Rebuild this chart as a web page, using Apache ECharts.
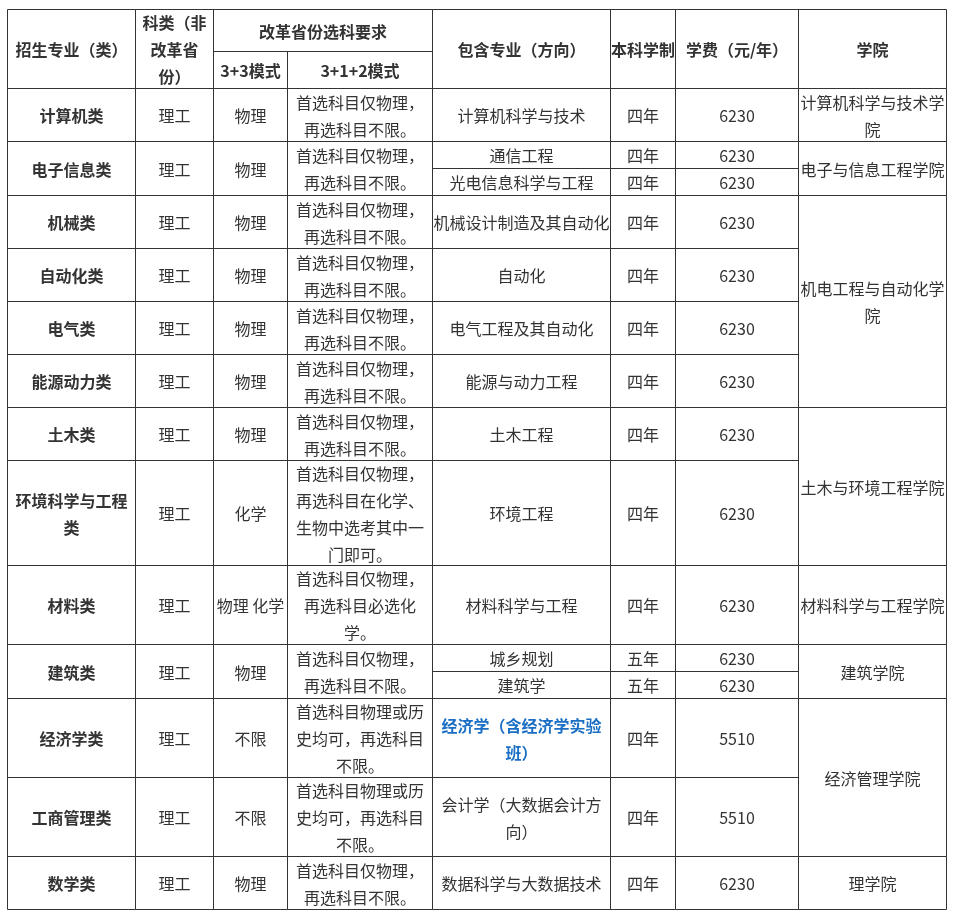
<!DOCTYPE html>
<html>
<head>
<meta charset="utf-8">
<title>招生专业表</title>
<script src="https://cdn.jsdelivr.net/npm/echarts@6/dist/echarts.min.js"></script>
<style>
  html, body { margin: 0; padding: 0; background: #fff; }
  #chart { width: 959px; height: 920px; }
</style>
</head>
<body>
<div id="chart"></div>
<script>
// ---- table content ----
const headerTop = ['招生专业（类）', '科类（非\n改革省\n份）', '改革省份选科要求', '包含专业（方向）', '本科学制', '学费（元/年）', '学院']
const headerSub = ['3+3模式', '3+1+2模式']

const categories = ['计算机类', '电子信息类', '机械类', '自动化类', '电气类', '能源动力类', '土木类',
  '环境科学与工程\n类', '材料类', '建筑类', '经济学类', '工商管理类', '数学类']
const subjectTypes = ['理工', '理工', '理工', '理工', '理工', '理工', '理工', '理工', '理工', '理工', '理工', '理工', '理工']
const mode33 = ['物理', '物理', '物理', '物理', '物理', '物理', '物理', '化学', '物理 化学', '物理', '不限', '不限', '物理']
const mode312 = [
  '首选科目仅物理，\n再选科目不限。',
  '首选科目仅物理，\n再选科目不限。',
  '首选科目仅物理，\n再选科目不限。',
  '首选科目仅物理，\n再选科目不限。',
  '首选科目仅物理，\n再选科目不限。',
  '首选科目仅物理，\n再选科目不限。',
  '首选科目仅物理，\n再选科目不限。',
  '首选科目仅物理，\n再选科目在化学、\n生物中选考其中一\n门即可。',
  '首选科目仅物理，\n再选科目必选化\n学。',
  '首选科目仅物理，\n再选科目不限。',
  '首选科目物理或历\n史均可，再选科目\n不限。',
  '首选科目物理或历\n史均可，再选科目\n不限。',
  '首选科目仅物理，\n再选科目不限。'
]
const majors = [
  ['计算机科学与技术'], ['通信工程', '光电信息科学与工程'], ['机械设计制造及其自动化'], ['自动化'],
  ['电气工程及其自动化'], ['能源与动力工程'], ['土木工程'], ['环境工程'], ['材料科学与工程'],
  ['城乡规划', '建筑学'], ['经济学（含经济学实验\n班）'], ['会计学（大数据会计方\n向）'], ['数据科学与大数据技术']
]
const durations = [
  ['四年'], ['四年', '四年'], ['四年'], ['四年'], ['四年'], ['四年'], ['四年'], ['四年'], ['四年'],
  ['五年', '五年'], ['四年'], ['四年'], ['四年']
]
const fees = [
  [6230], [6230, 6230], [6230], [6230], [6230], [6230], [6230], [6230], [6230],
  [6230, 6230], [5510], [5510], [6230]
]
const colleges = ['计算机科学与技术学\n院', '电子与信息工程学院', '机电工程与自动化学\n院', '土木与环境工程学院',
  '材料科学与工程学院', '建筑学院', '经济管理学院', '理学院']
const collegeSpans = [1, 1, 4, 2, 1, 1, 2, 1]
const highlighted = ['经济学（含经济学实验\n班）']

// ---- layout (table units = px) ----
const colWidths = [128, 78, 74, 145, 178, 65, 123, 148]
const headerHeight = 79
const headerSplit = 42
const rowHeights = [53, 54, 53, 53, 53, 53, 53, 105, 79, 54, 79, 79, 53]

const colX = [0]
colWidths.forEach((w) => colX.push(colX[colX.length - 1] + w))
const rowY = [0, headerHeight]
rowHeights.forEach((h) => rowY.push(rowY[rowY.length - 1] + h))
const totalW = colX[colX.length - 1]
const totalH = rowY[rowY.length - 1]

// build cells: [x0, y0, x1, y1, text, weight, color]
const cells = []
const addCell = (c0, c1, y0, y1, text, bold, color) => {
  cells.push([colX[c0], y0, colX[c1], y1, text, bold ? 'bold' : 'normal', color || '#333'])
}

// header
addCell(0, 1, 0, headerHeight, headerTop[0], true)
addCell(1, 2, 0, headerHeight, headerTop[1], true)
addCell(2, 4, 0, headerSplit, headerTop[2], true)
addCell(2, 3, headerSplit, headerHeight, headerSub[0], true)
addCell(3, 4, headerSplit, headerHeight, headerSub[1], true)
addCell(4, 5, 0, headerHeight, headerTop[3], true)
addCell(5, 6, 0, headerHeight, headerTop[4], true)
addCell(6, 7, 0, headerHeight, headerTop[5], true)
addCell(7, 8, 0, headerHeight, headerTop[6], true)

// body
categories.forEach((cat, i) => {
  const y0 = rowY[i + 1]
  const y1 = rowY[i + 2]
  addCell(0, 1, y0, y1, cat, true)
  addCell(1, 2, y0, y1, subjectTypes[i])
  addCell(2, 3, y0, y1, mode33[i])
  addCell(3, 4, y0, y1, mode312[i])
  const n = majors[i].length
  majors[i].forEach((m, k) => {
    const s0 = y0 + Math.round((y1 - y0) * k / n)
    const s1 = y0 + Math.round((y1 - y0) * (k + 1) / n)
    const hi = highlighted.includes(m)
    addCell(4, 5, s0, s1, m, hi, hi ? '#1a6fc4' : null)
    addCell(5, 6, s0, s1, durations[i][k])
    addCell(6, 7, s0, s1, String(fees[i][k]))
  })
})

let r = 0
colleges.forEach((name, i) => {
  addCell(7, 8, rowY[r + 1], rowY[r + 1 + collegeSpans[i]], name)
  r += collegeSpans[i]
})

const chart = echarts.init(document.getElementById('chart'))

chart.setOption({
  backgroundColor: '#fff',
  animation: false,
  grid: { left: 7, top: 9, width: totalW, height: totalH },
  xAxis: { type: 'value', min: 0, max: totalW, show: false },
  yAxis: { type: 'value', min: 0, max: totalH, inverse: true, show: false },
  series: [
    {
      type: 'custom',
      coordinateSystem: 'cartesian2d',
      data: cells,
      encode: { x: [0, 2], y: [1, 3] },
      renderItem: (params, api) => {
        const p0 = api.coord([api.value(0), api.value(1)])
        const p1 = api.coord([api.value(2), api.value(3)])
        const x0 = Math.round(p0[0]) + 0.5
        const y0 = Math.round(p0[1]) + 0.5
        const x1 = Math.round(p1[0]) + 0.5
        const y1 = Math.round(p1[1]) + 0.5
        const cell = cells[params.dataIndex]
        return {
          type: 'group',
          children: [
            {
              type: 'rect',
              shape: { x: x0, y: y0, width: x1 - x0, height: y1 - y0 },
              style: { fill: 'none', stroke: '#333', lineWidth: 1 }
            },
            {
              type: 'text',
              style: {
                text: cell[4],
                x: (x0 + x1) / 2,
                y: (y0 + y1) / 2 + 1,
                align: 'center',
                verticalAlign: 'middle',
                fontSize: 16,
                lineHeight: 27,
                fontWeight: cell[5],
                fontFamily: '"Noto Sans CJK SC", "Microsoft YaHei", sans-serif',
                fill: cell[6]
              }
            }
          ]
        }
      }
    }
  ]
})

window.addEventListener('resize', () => chart.resize())
</script>
</body>
</html>
